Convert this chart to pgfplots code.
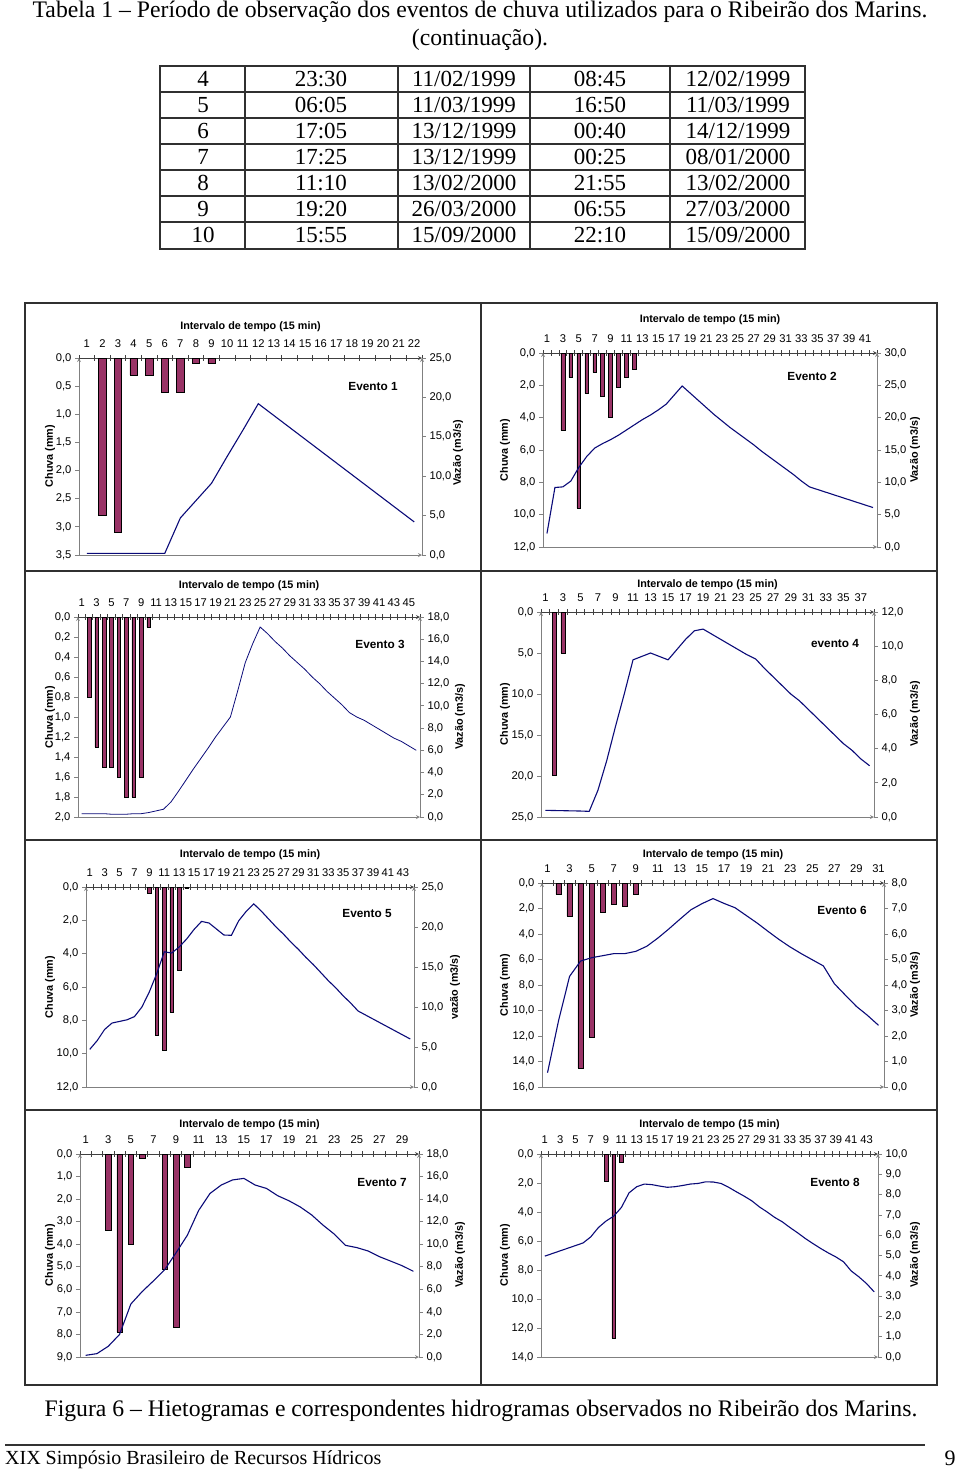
\documentclass[border=0pt]{standalone}
\usepackage{fontspec}
\setmainfont{Liberation Serif}
\newfontfamily\arial{Liberation Sans}
\usepackage{pgfplots}
\pgfplotsset{compat=1.18}
\definecolor{barc}{HTML}{993366}
\definecolor{navyc}{HTML}{0A0A78}
\definecolor{axg}{HTML}{808080}
\definecolor{frm}{HTML}{303030}
\newcommand\tkf{\arial\fontsize{11.2}{13}\selectfont}
\newcommand\tkb{\arial\bfseries\fontsize{10.8}{12}\selectfont}
\newcommand\evf{\arial\bfseries\fontsize{11.8}{13}\selectfont}
\newcommand\tmf{\fontsize{23}{25}\selectfont}
\newcommand\ttf{\fontsize{23.7}{26}\selectfont}
\pgfplotsset{
  base/.style={scale only axis, anchor=north west, xmin=0.5,
    /pgf/number format/assume math mode=true,
    tick label style={font=\tkf},
    axis line style={-, axg, line width=0.8pt},
    every outer x axis line/.append style={-},
    every outer y axis line/.append style={-},
    tick style={axg, line width=0.8pt},
    major tick length=4pt, minor tick length=6pt,
  },
  chuvaax/.style={base, ymax=0, axis x line=top, axis y line=left,
    x axis line style={black!75},
    xtick align=center, ytick align=outside,
    every major x tick/.append style={draw=none},
    minor x tick style={black!75},
    xticklabel pos=right, xticklabel shift=4.5pt,
    yticklabel={\pgfmathparse{abs(\tick)}\pgfmathprintnumber[fixed,fixed zerofill,precision=1,use comma,assume math mode=true]{\pgfmathresult}},
  },
  vazaoax/.style={base, ymin=0, axis x line=bottom, axis y line=right,
    xtick=\empty, ytick align=outside, yticklabel pos=right,
    yticklabel style={/pgf/number format/.cd, fixed, fixed zerofill, precision=1, use comma},
  },
  barst/.style={ybar, bar width=0.48, fill=barc, draw=black, line width=0.5pt},
  linest/.style={navyc, line width=1.1pt, mark=none},
}
\begin{document}
\begin{tikzpicture}
\path[use as bounding box] (0,0) rectangle (960pt,-1472pt);

% ---------------- Evento 1
\begin{axis}[chuvaax, at={(79pt,-358pt)}, width=343pt, height=197pt, xmax=22.5,
  ymin=-3.5, ytick={-3.5,-3,...,0}, xtick={1,...,22}, minor xtick={0.5,1.5,...,22.5}]
\addplot[barst] table[x=t, y expr=-\thisrow{c}] {
t c
2 2.8
3 3.1
4 0.3
5 0.3
6 0.6
7 0.6
8 0.1
9 0.1
};
\end{axis}
\begin{axis}[vazaoax, at={(79pt,-358pt)}, width=343pt, height=197pt, xmax=22.5,
  ymax=25, ytick={0,5,...,25}]
\addplot[linest] table {
1 0.2
2 0.2
3 0.2
4 0.2
5 0.2
6 0.2
7 4.7
8 6.9
9 9.1
10 12.5
11 15.8
12 19.2
13 17.7
14 16.2
15 14.7
16 13.2
17 11.7
18 10.2
19 8.7
20 7.2
21 5.7
22 4.2
};
\end{axis}

% ---------------- Evento 2
\begin{axis}[chuvaax, at={(543pt,-353pt)}, width=334pt, height=194pt, xmax=42.5,
  ymin=-12, ytick={-12,-10,...,0}, xtick={1,3,...,41}, minor xtick={0.5,1.5,...,42.5}]
\addplot[barst] table[x=t, y expr=-\thisrow{c}] {
t c
3 4.8
4 1.5
5 9.6
6 2.5
7 1.2
8 2.7
9 4.0
10 2.1
11 1.5
12 1.0
};
\end{axis}
\begin{axis}[vazaoax, at={(543pt,-353pt)}, width=334pt, height=194pt, xmax=42.5,
  ymax=30, ytick={0,5,...,30}]
\addplot[linest] table {
1 2.1
2 9.2
3 9.3
4 10.2
5 12.3
6 14.0
7 15.3
8 16.0
9 16.6
10 17.3
11 18.1
12 18.9
13 19.7
14 20.4
15 21.2
16 22.1
17 23.5
18 24.9
19 23.8
20 22.7
21 21.6
22 20.5
23 19.5
24 18.5
25 17.6
26 16.7
27 15.8
28 14.8
29 13.9
30 13.0
31 12.1
32 11.2
33 10.2
34 9.3
35 8.9
36 8.5
37 8.1
38 7.7
39 7.3
40 6.9
41 6.5
42 6.1
};
\end{axis}

% ---------------- Evento 3
\begin{axis}[chuvaax, at={(78pt,-617pt)}, width=342pt, height=200pt, xmax=46.5,
  ymin=-2, ytick={-2,-1.8,...,0}, xtick={1,3,...,45}, minor xtick={0.5,1.5,...,46.5}]
\addplot[barst] table[x=t, y expr=-\thisrow{c}] {
t c
2 0.8
3 1.3
4 1.5
5 1.5
6 1.6
7 1.8
8 1.8
9 1.6
10 0.1
};
\end{axis}
\begin{axis}[vazaoax, at={(78pt,-617pt)}, width=342pt, height=200pt, xmax=46.5,
  ymax=18, ytick={0,2,...,18}]
\addplot[linest, line width=0.8pt] table {
1 0.3
2 0.3
3 0.3
4 0.3
5 0.25
6 0.25
7 0.25
8 0.3
9 0.3
10 0.4
11 0.55
12 0.7
13 1.35
14 2.3
15 3.3
16 4.3
17 5.25
18 6.2
19 7.2
20 8.1
21 9.0
22 11.4
23 13.9
24 15.6
25 17.1
26 16.5
27 15.8
28 15.2
29 14.5
30 13.9
31 13.3
32 12.6
33 12.0
34 11.3
35 10.7
36 10.1
37 9.4
38 9.0
39 8.7
40 8.3
41 7.9
42 7.5
43 7.1
44 6.8
45 6.4
46 6.0
};
\end{axis}

% ---------------- Evento 4
\begin{axis}[chuvaax, at={(541pt,-612pt)}, width=333pt, height=205pt, xmax=38.5,
  ymin=-25, ytick={-25,-20,...,0}, xtick={1,3,...,37}, minor xtick={0.5,1.5,...,38.5}]
\addplot[barst] table[x=t, y expr=-\thisrow{c}] {
t c
2 19.9
3 5.0
};
\end{axis}
\begin{axis}[vazaoax, at={(541pt,-612pt)}, width=333pt, height=205pt, xmax=38.5,
  ymax=12, ytick={0,2,...,12}]
\addplot[linest] table {
1 0.39
2 0.38
3 0.37
4 0.36
5 0.35
6 0.33
7 1.57
8 3.3
9 5.3
10 7.2
11 9.2
12 9.4
13 9.6
14 9.4
15 9.2
16 9.8
17 10.4
18 10.9
19 11.0
20 10.7
21 10.4
22 10.1
23 9.8
24 9.5
25 9.25
26 8.7
27 8.2
28 7.7
29 7.2
30 6.8
31 6.3
32 5.8
33 5.3
34 4.8
35 4.3
36 3.9
37 3.4
38 3.0
};
\end{axis}

% ---------------- Evento 5
\begin{axis}[chuvaax, at={(86pt,-887pt)}, width=328pt, height=200pt, xmax=44.5,
  ymin=-12, ytick={-12,-10,...,0}, xtick={1,3,...,43}, minor xtick={0.5,1.5,...,44.5}]
\addplot[barst] table[x=t, y expr=-\thisrow{c}] {
t c
9 0.4
10 8.9
11 9.8
12 7.5
13 5.0
14 0.1
};
\end{axis}
\begin{axis}[vazaoax, at={(86pt,-887pt)}, width=328pt, height=200pt, xmax=44.5,
  ymax=25, ytick={0,5,...,25}]
\addplot[linest] table {
1 4.7
2 5.8
3 7.2
4 8.0
5 8.2
6 8.4
7 8.8
8 10.0
9 11.9
10 14.2
11 16.9
12 16.75
13 17.5
14 18.5
15 19.7
16 20.7
17 20.5
18 19.75
19 19.0
20 18.96
21 20.8
22 21.96
23 22.9
24 22.0
25 21.0
26 20.0
27 19.1
28 18.1
29 17.2
30 16.2
31 15.3
32 14.3
33 13.3
34 12.4
35 11.4
36 10.5
37 9.5
38 9.0
39 8.5
40 8.0
41 7.5
42 7.0
43 6.5
44 6.0
};
\end{axis}

% ---------------- Evento 6
\begin{axis}[chuvaax, at={(542pt,-883pt)}, width=342pt, height=204pt, xmax=31.5,
  ymin=-16, ytick={-16,-14,...,0}, xtick={1,3,...,31}, minor xtick={0.5,1.5,...,31.5}]
\addplot[barst] table[x=t, y expr=-\thisrow{c}] {
t c
2 0.9
3 2.6
4 14.5
5 12.1
6 2.3
7 1.7
8 1.8
9 0.9
};
\end{axis}
\begin{axis}[vazaoax, at={(542pt,-883pt)}, width=342pt, height=204pt, xmax=31.5,
  ymax=8, ytick={0,1,...,8}]
\addplot[linest] table {
1 0.56
2 2.6
3 4.34
4 4.94
5 5.07
6 5.15
7 5.23
8 5.23
9 5.32
10 5.52
11 5.84
12 6.2
13 6.58
14 6.95
15 7.19
16 7.39
17 7.2
18 7.03
19 6.73
20 6.43
21 6.1
22 5.78
23 5.49
24 5.23
25 4.99
26 4.75
27 4.05
28 3.6
29 3.16
30 2.81
31 2.42
};
\end{axis}

% ---------------- Evento 7
\begin{axis}[chuvaax, at={(80pt,-1154pt)}, width=339pt, height=203pt, xmax=30.5,
  ymin=-9, ytick={-9,-8,...,0}, xtick={1,3,...,29}, minor xtick={0.5,1.5,...,30.5}]
\addplot[barst] table[x=t, y expr=-\thisrow{c}] {
t c
3 3.4
4 7.9
5 4.0
6 0.2
8 5.1
9 7.7
10 0.6
};
\end{axis}
\begin{axis}[vazaoax, at={(80pt,-1154pt)}, width=339pt, height=203pt, xmax=30.5,
  ymax=18, ytick={0,2,...,18}]
\addplot[linest] table {
1 0.15
2 0.3
3 0.95
4 2.0
5 4.7
6 5.8
7 6.75
8 7.75
9 9.24
10 10.8
11 13.0
12 14.5
13 15.25
14 15.7
15 15.84
16 15.25
17 14.95
18 14.3
19 13.85
20 13.3
21 12.6
22 11.7
23 10.9
24 9.9
25 9.7
26 9.4
27 8.9
28 8.5
29 8.1
30 7.6
};
\end{axis}

% ---------------- Evento 8
\begin{axis}[chuvaax, at={(541pt,-1154pt)}, width=337pt, height=203pt, xmax=44.5,
  ymin=-14, ytick={-14,-12,...,0}, xtick={1,3,...,43}, minor xtick={0.5,1.5,...,44.5}]
\addplot[barst] table[x=t, y expr=-\thisrow{c}] {
t c
9 1.9
10 12.7
11 0.6
};
\end{axis}
\begin{axis}[vazaoax, at={(541pt,-1154pt)}, width=337pt, height=203pt, xmax=44.5,
  ymax=10, ytick={0,1,...,10}]
\addplot[linest] table {
1 4.97
2 5.1
3 5.23
4 5.36
5 5.49
6 5.62
7 5.92
8 6.38
9 6.7
10 6.94
11 7.37
12 8.09
13 8.39
14 8.52
15 8.49
16 8.42
17 8.36
18 8.39
19 8.45
20 8.52
21 8.55
22 8.63
23 8.62
24 8.55
25 8.36
26 8.14
27 7.93
28 7.7
29 7.4
30 7.15
31 6.88
32 6.66
33 6.38
34 6.12
35 5.84
36 5.59
37 5.35
38 5.13
39 4.93
40 4.69
41 4.24
42 3.95
43 3.62
44 3.21
};
\end{axis}

\begin{scope}[x=1pt,y=-1pt]
% title
\node[font=\ttf] at (480,12) {Tabela 1 -- Período de observação dos eventos de chuva utilizados para o Ribeirão dos Marins.};
\node[font=\ttf] at (480,40) {(continuação).};
% table
\draw[frm, line width=2pt] (160,66) rectangle (805,249);
\foreach \yy in {92,118,144,170,196,222} \draw[frm, line width=1.4pt] (160,\yy) -- (805,\yy);
\foreach \xx in {245,398,530,670} \draw[frm, line width=1.4pt] (\xx,66) -- (\xx,249);
\foreach \r/\a/\b/\c/\d [count=\i from 0] in {
 4/23:30/{11/02/1999}/08:45/{12/02/1999},
 5/06:05/{11/03/1999}/16:50/{11/03/1999},
 6/17:05/{13/12/1999}/00:40/{14/12/1999},
 7/17:25/{13/12/1999}/00:25/{08/01/2000},
 8/11:10/{13/02/2000}/21:55/{13/02/2000},
 9/19:20/{26/03/2000}/06:55/{27/03/2000},
 10/15:55/{15/09/2000}/22:10/{15/09/2000}}{
  \pgfmathsetmacro\yc{79+26*\i}
  \node[font=\tmf] at (203,\yc) {\r};
  \node[font=\tmf] at (321,\yc) {\a};
  \node[font=\tmf] at (464,\yc) {\b};
  \node[font=\tmf] at (600,\yc) {\c};
  \node[font=\tmf] at (738,\yc) {\d};
}
% frame
\draw[frm, line width=2pt] (25,303) rectangle (937,1385);
\draw[frm, line width=2pt] (481,303) -- (481,1385);
\foreach \yy in {571,840,1110} \draw[frm, line width=2pt] (25,\yy) -- (937,\yy);
% x titles
\foreach \xc/\yc in {250.5/327, 710/320, 249/586, 707.5/585, 250/855, 713/855, 249.5/1125, 709.5/1125}
  \node[font=\tkb] at (\xc,\yc) {Intervalo de tempo (15 min)};
% chuva labels
\foreach \xc/\yc in {50/456, 505/450, 50/717, 505/714, 50/987, 505/985, 50/1255, 505/1255}
  \node[font=\tkb, rotate=90] at (\xc,\yc) {Chuva (mm)};
\foreach \xc/\yc in {458/453, 915/450, 460/717, 915/714, 915/985, 460/1255, 915/1255}
  \node[font=\tkb, rotate=90] at (\xc,\yc) {Vazão (m3/s)};
\node[font=\tkb, rotate=90] at (455,987) {vazão (m3/s)};
% evento labels
\node[font=\evf] at (373,386) {Evento 1};
\node[font=\evf] at (812,376) {Evento 2};
\node[font=\evf] at (380,644) {Evento 3};
\node[font=\evf] at (835,643) {evento 4};
\node[font=\evf] at (367,913) {Evento 5};
\node[font=\evf] at (842,910) {Evento 6};
\node[font=\evf] at (382,1182) {Evento 7};
\node[font=\evf] at (835,1182) {Evento 8};
% caption and footer
\node[font=\ttf] at (481,1411) {Figura 6 -- Hietogramas e correspondentes hidrogramas observados no Ribeirão dos Marins.};
\draw[black!80, line width=1.5pt] (5,1445) -- (925,1445);
\node[font=\fontsize{20}{22}\selectfont, anchor=west, inner sep=0pt] at (5,1460) {XIX Simpósio Brasileiro de Recursos Hídricos};
\node[font=\fontsize{22}{24}\selectfont] at (950,1458) {9};
\end{scope}
\end{tikzpicture}
\end{document}
